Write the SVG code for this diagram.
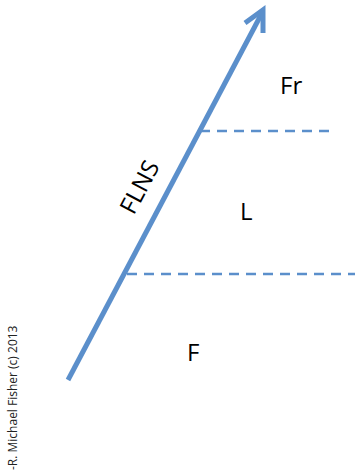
<svg xmlns="http://www.w3.org/2000/svg" width="355" height="472" viewBox="0 0 355 472">
<style>
.lbl{font-family:"Open Sans","Liberation Sans",sans-serif;font-size:24px;fill:#000}
.dash{stroke:#5B8FCB;stroke-width:2.5;stroke-dasharray:10 7;fill:none}
.arrow{stroke:#5B8FCB;stroke-width:5;fill:none;stroke-linecap:butt}
.copy{font-family:"Open Sans","Liberation Sans",sans-serif;font-size:12px;fill:#222}
</style>
<rect width="355" height="472" fill="#fff"/>
<g id="connectors">
<line class="dash" x1="200" y1="131" x2="330" y2="131"/>
<line class="dash" x1="127" y1="274" x2="355" y2="274"/>
<line class="arrow" x1="68" y1="380" x2="262" y2="13"/>
<polyline class="arrow" points="245,23 263,10 263,33" stroke-linejoin="miter"/>
</g>
<g id="Fr"><text class="lbl" x="280" y="94">Fr</text></g>
<g id="L"><text class="lbl" x="240" y="220" font-size="28">L</text></g>
<g id="F"><text class="lbl" x="187" y="361" font-size="26">F</text></g>
<g id="FLNS"><text class="lbl" transform="translate(147,191) rotate(-62)" text-anchor="middle" x="0" y="0" font-size="30">FLNS</text></g>
<g id="copyright"><text class="copy" transform="translate(17,470) rotate(-90)">-R. Michael Fisher (c) 2013</text></g>
</svg>
